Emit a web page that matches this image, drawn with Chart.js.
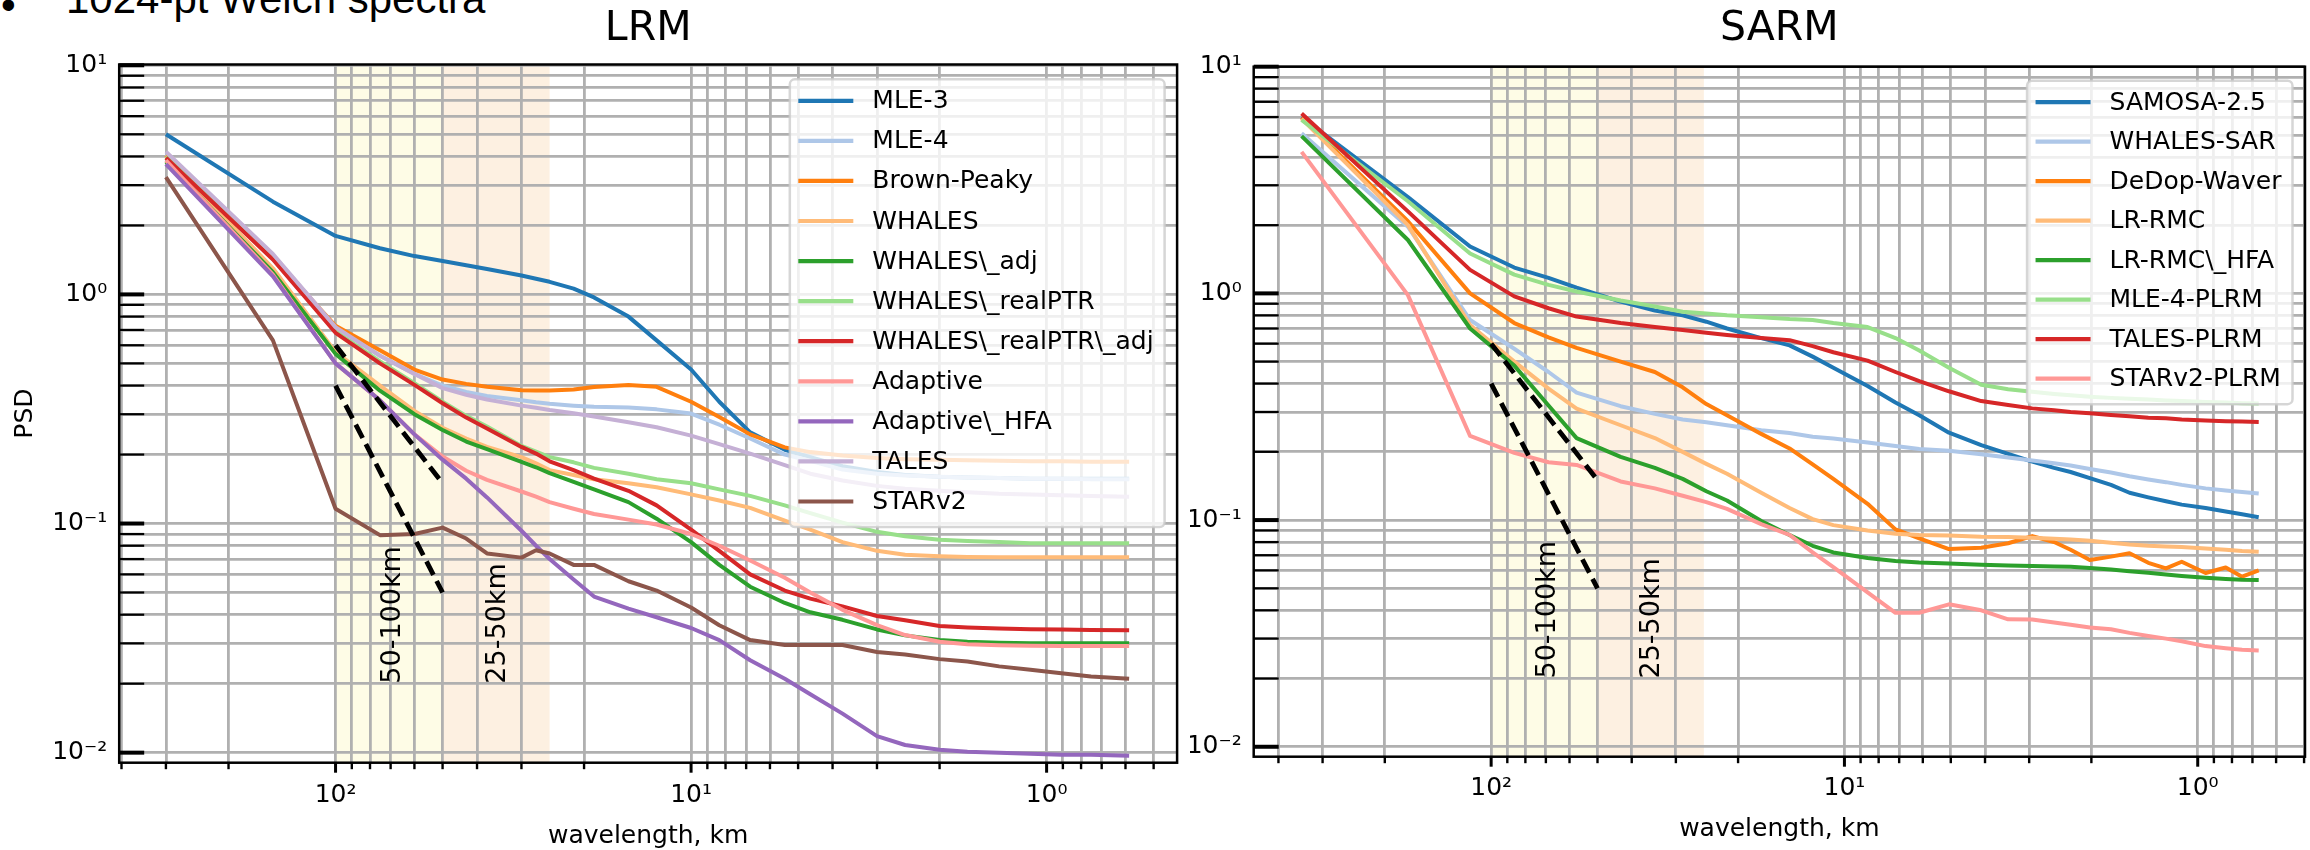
<!DOCTYPE html>
<html>
<head>
<meta charset="utf-8">
<script src="https://cdn.jsdelivr.net/npm/chart.js@4.4.1/dist/chart.umd.min.js"></script>
<style>
  html, body { margin: 0; padding: 0; background: #fff; }
  body { width: 2310px; height: 850px; position: relative; overflow: hidden; }
  canvas { position: absolute; top: 0; }
  #lrmChart { left: 0; }
  #sarmChart { left: 1190px; }
  .heading { position: absolute; font-family: 'Liberation Sans', Arial, sans-serif; font-size: 42px; line-height: 42px; color: #000; white-space: nowrap; }
</style>
</head>
<body>
<div class="heading" style="left:1px;top:-16px">•</div>
<div class="heading" style="left:66px;top:-22px">1024-pt Welch spectra</div>
<canvas id="lrmChart" width="1190" height="850"></canvas>
<canvas id="sarmChart" width="1120" height="850"></canvas>
<script>
// ---- LRM spectra (PSD vs wavelength in km) ----
const lrmWavelength = [300, 150, 100, 75, 60, 50, 42.9, 37.5, 30, 27.3, 25, 21.4, 18.75, 15, 12.5, 10, 8.33, 6.82, 5.45, 4.62, 3.75, 3.0, 2.5, 2.0, 1.67, 1.36, 1.11, 0.909, 0.75, 0.586];

const lrmMle3 = [5.0, 2.54, 1.80, 1.59, 1.47, 1.40, 1.34, 1.29, 1.21, 1.17, 1.135, 1.06, 0.97, 0.80, 0.63, 0.47, 0.34, 0.25, 0.21, 0.195, 0.178, 0.168, 0.163, 0.160, 0.159, 0.158, 0.157, 0.157, 0.157, 0.157];
const lrmMle4 = [4.1, 1.48, 0.72, 0.54, 0.45, 0.40, 0.375, 0.36, 0.345, 0.338, 0.333, 0.327, 0.323, 0.321, 0.315, 0.302, 0.27, 0.235, 0.20, 0.188, 0.172, 0.165, 0.162, 0.160, 0.159, 0.158, 0.157, 0.157, 0.156, 0.156];
const lrmBrownPeaky = [4.05, 1.45, 0.73, 0.57, 0.47, 0.425, 0.407, 0.395, 0.382, 0.381, 0.381, 0.385, 0.394, 0.402, 0.395, 0.34, 0.292, 0.245, 0.215, 0.205, 0.198, 0.193, 0.191, 0.19, 0.189, 0.188, 0.187, 0.187, 0.186, 0.186];
const lrmWhales = [4.0, 1.3, 0.56, 0.40, 0.31, 0.262, 0.235, 0.216, 0.195, 0.183, 0.171, 0.163, 0.156, 0.150, 0.144, 0.134, 0.126, 0.117, 0.103, 0.094, 0.083, 0.076, 0.073, 0.072, 0.0715, 0.0713, 0.0713, 0.0713, 0.0713, 0.0713];
const lrmWhalesAdj = [3.8, 1.25, 0.55, 0.38, 0.30, 0.256, 0.228, 0.211, 0.186, 0.176, 0.166, 0.152, 0.141, 0.124, 0.105, 0.083, 0.066, 0.053, 0.045, 0.041, 0.038, 0.0345, 0.0325, 0.031, 0.0305, 0.0302, 0.030, 0.030, 0.030, 0.030];
const lrmWhalesRealPtr = [4.0, 1.43, 0.69, 0.51, 0.41, 0.34, 0.295, 0.265, 0.218, 0.206, 0.195, 0.185, 0.175, 0.165, 0.156, 0.150, 0.141, 0.132, 0.12, 0.111, 0.101, 0.092, 0.088, 0.085, 0.084, 0.083, 0.082, 0.082, 0.082, 0.082];
const lrmWhalesRealPtrAdj = [3.95, 1.42, 0.68, 0.50, 0.403, 0.335, 0.29, 0.26, 0.216, 0.202, 0.187, 0.171, 0.157, 0.139, 0.12, 0.094, 0.076, 0.06, 0.051, 0.047, 0.0435, 0.0395, 0.0378, 0.0357, 0.0352, 0.0348, 0.0346, 0.0345, 0.0343, 0.0342];
const lrmAdaptive = [3.85, 1.22, 0.50, 0.345, 0.245, 0.196, 0.17, 0.155, 0.138, 0.131, 0.124, 0.116, 0.110, 0.104, 0.099, 0.090, 0.080, 0.069, 0.058, 0.050, 0.042, 0.036, 0.0326, 0.0305, 0.0297, 0.0294, 0.0293, 0.0292, 0.0292, 0.0292];
const lrmAdaptiveHfa = [3.7, 1.2, 0.50, 0.345, 0.245, 0.19, 0.157, 0.13, 0.093, 0.080, 0.07, 0.057, 0.048, 0.0425, 0.039, 0.035, 0.031, 0.0253, 0.021, 0.018, 0.0148, 0.0118, 0.0108, 0.0103, 0.0101, 0.0100, 0.0099, 0.0098, 0.0098, 0.0097];
const lrmTales = [4.2, 1.5, 0.72, 0.54, 0.45, 0.39, 0.365, 0.348, 0.327, 0.32, 0.313, 0.303, 0.293, 0.277, 0.263, 0.242, 0.222, 0.202, 0.18, 0.165, 0.154, 0.146, 0.142, 0.139, 0.137, 0.135, 0.134, 0.133, 0.132, 0.131];
const lrmStarV2 = [3.25, 0.63, 0.116, 0.089, 0.090, 0.096, 0.086, 0.074, 0.071, 0.0765, 0.074, 0.066, 0.066, 0.056, 0.051, 0.043, 0.036, 0.031, 0.0295, 0.0295, 0.0295, 0.0275, 0.0268, 0.0256, 0.025, 0.0238, 0.023, 0.0222, 0.0215, 0.021];

const lrmNames = ['MLE-3', 'MLE-4', 'Brown-Peaky', 'WHALES', 'WHALES\\_adj', 'WHALES\\_realPTR',
  'WHALES\\_realPTR\\_adj', 'Adaptive', 'Adaptive\\_HFA', 'TALES', 'STARv2'];

// ---- SARM spectra ----
const sarmWavelength = [344, 172, 114.7, 86, 68.8, 57.3, 43, 34.4, 28.7, 24.6, 21.5, 17.2, 14.3, 12.3, 10.75, 8.6, 7.17, 6.14, 5.06, 4.1, 3.44, 2.94, 2.55, 2.29, 2.02, 1.76, 1.56, 1.38, 1.23, 1.11, 0.95, 0.833, 0.749, 0.672];

const sarmSamosa = [6.0, 2.66, 1.61, 1.30, 1.17, 1.06, 0.92, 0.84, 0.80, 0.75, 0.70, 0.635, 0.59, 0.526, 0.47, 0.39, 0.33, 0.29, 0.243, 0.214, 0.196, 0.181, 0.170, 0.163, 0.153, 0.143, 0.132, 0.126, 0.121, 0.117, 0.113, 0.109, 0.106, 0.103];
const sarmWhalesSar = [5.08, 1.97, 0.763, 0.57, 0.45, 0.365, 0.318, 0.294, 0.278, 0.27, 0.262, 0.249, 0.242, 0.233, 0.229, 0.22, 0.212, 0.206, 0.202, 0.195, 0.189, 0.183, 0.178, 0.174, 0.168, 0.162, 0.156, 0.151, 0.147, 0.143, 0.138, 0.135, 0.133, 0.131];
const sarmDedopWaver = [5.97, 2.08, 1.0, 0.74, 0.64, 0.575, 0.50, 0.45, 0.385, 0.325, 0.29, 0.24, 0.207, 0.176, 0.152, 0.118, 0.091, 0.083, 0.0745, 0.0755, 0.079, 0.085, 0.080, 0.074, 0.0667, 0.069, 0.0714, 0.0648, 0.0612, 0.0655, 0.0584, 0.0618, 0.0563, 0.060];
const sarmLrRmc = [5.9, 2.0, 0.725, 0.50, 0.38, 0.31, 0.262, 0.23, 0.20, 0.177, 0.160, 0.132, 0.113, 0.101, 0.095, 0.090, 0.087, 0.086, 0.0855, 0.0845, 0.0842, 0.0835, 0.0828, 0.082, 0.081, 0.0795, 0.078, 0.077, 0.0765, 0.076, 0.075, 0.074, 0.073, 0.0724];
const sarmLrRmcHfa = [4.94, 1.72, 0.70, 0.48, 0.32, 0.23, 0.19, 0.17, 0.152, 0.134, 0.122, 0.099, 0.086, 0.077, 0.072, 0.068, 0.066, 0.065, 0.0643, 0.0635, 0.063, 0.0627, 0.0624, 0.0622, 0.0615, 0.0605, 0.0595, 0.0585, 0.0575, 0.0567, 0.0557, 0.055, 0.0546, 0.0544];
const sarmMle4Plrm = [5.82, 2.55, 1.50, 1.21, 1.09, 1.02, 0.93, 0.875, 0.83, 0.816, 0.80, 0.785, 0.77, 0.763, 0.74, 0.71, 0.635, 0.56, 0.47, 0.395, 0.378, 0.368, 0.36, 0.355, 0.35, 0.346, 0.343, 0.34, 0.337, 0.335, 0.332, 0.33, 0.328, 0.327];
const sarmTalesPlrm = [6.22, 2.3, 1.27, 0.97, 0.86, 0.79, 0.74, 0.71, 0.69, 0.67, 0.655, 0.635, 0.622, 0.585, 0.55, 0.505, 0.45, 0.41, 0.37, 0.335, 0.322, 0.311, 0.305, 0.30, 0.296, 0.291, 0.287, 0.283, 0.281, 0.278, 0.275, 0.273, 0.272, 0.271];
const sarmStarV2Plrm = [4.21, 0.983, 0.235, 0.198, 0.18, 0.175, 0.148, 0.138, 0.128, 0.12, 0.112, 0.096, 0.086, 0.072, 0.062, 0.048, 0.039, 0.039, 0.0425, 0.040, 0.0365, 0.0364, 0.0353, 0.0345, 0.0336, 0.033, 0.0318, 0.0308, 0.030, 0.0292, 0.0278, 0.0272, 0.0268, 0.0266];

const sarmNames = ['SAMOSA-2.5', 'WHALES-SAR', 'DeDop-Waver', 'LR-RMC', 'LR-RMC\\_HFA', 'MLE-4-PLRM', 'TALES-PLRM', 'STARv2-PLRM'];

// reference slopes over the 50-100 km band, [wavelength, PSD]
const slopeShallow = [[100, 0.6], [50, 0.15]];
const slopeSteep = [[100, 0.4], [50, 0.05]];

// shaded wavelength bands and their captions
const bandEdges = [[100, 50], [50, 25]];
const bandCaptions = ['50-100km', '25-50km'];
const bandCaptionAt = [69, 35];
const bandCaptionPsd = 0.02;

// log-axis tick layout
const tickMantissas = [1, 2, 3, 4, 5, 6, 7, 8, 9];
const psdDecades = [-2, -1, 0, 1];
const wavelengthDecades = [-1, 0, 1, 2];

const tab20 = ['#1f77b4', '#aec7e8', '#ff7f0e', '#ffbb78', '#2ca02c', '#98df8a', '#d62728', '#ff9896', '#9467bd', '#c5b0d5', '#8c564b'];
const bandFills = ['#fefce6', '#fdf0e1'];
const GRID = '#b0b0b0';
const FONT = "'DejaVu Sans', sans-serif";

Chart.defaults.font.family = FONT;
Chart.defaults.font.size = 25;
Chart.defaults.color = '#000';

const SUP = { '-': '\u207b', '0': '\u2070', '1': '\u00b9', '2': '\u00b2', '3': '\u00b3' };
const isDecade = v => Math.abs(Math.log10(v) - Math.round(Math.log10(v))) < 1e-6;
const powerLabel = v => isDecade(v)
  ? '10' + String(Math.round(Math.log10(v))).split('').map(c => SUP[c]).join('')
  : '';

function logTicks(decades, min, max) {
  const out = [];
  decades.forEach(e => tickMantissas.forEach(m => {
    const v = m * Math.pow(10, e);
    if (v >= min * 0.999 && v <= max * 1.001) out.push({ value: v });
  }));
  return out;
}

function roundRect(ctx, x, y, w, h, r) {
  ctx.beginPath();
  ctx.moveTo(x + r, y);
  ctx.arcTo(x + w, y, x + w, y + h, r);
  ctx.arcTo(x + w, y + h, x, y + h, r);
  ctx.arcTo(x, y + h, x, y, r);
  ctx.arcTo(x, y, x + w, y, r);
  ctx.closePath();
}

// bands, frame, inward y ticks, outward x ticks, captions, legend and panel title
const spectrumDecor = {
  id: 'spectrumDecor',
  beforeDraw(chart) {
    const { ctx, chartArea: a, scales: { x } } = chart;
    ctx.save();
    bandEdges.forEach(([from, to], i) => {
      const x0 = x.getPixelForValue(from), x1 = x.getPixelForValue(to);
      ctx.fillStyle = bandFills[i];
      ctx.fillRect(Math.min(x0, x1), a.top, Math.abs(x1 - x0), a.bottom - a.top);
    });
    ctx.restore();
  },
  afterDatasetsDraw(chart) {
    const { ctx, chartArea: a, scales: { x, y } } = chart;
    ctx.save();
    ctx.font = '27px ' + FONT;
    ctx.fillStyle = '#000';
    ctx.textAlign = 'left';
    ctx.textBaseline = 'middle';
    bandCaptions.forEach((text, i) => {
      ctx.save();
      ctx.translate(x.getPixelForValue(bandCaptionAt[i]), y.getPixelForValue(bandCaptionPsd));
      ctx.rotate(-Math.PI / 2);
      ctx.fillText(text, 0, 0);
      ctx.restore();
    });

    ctx.strokeStyle = '#000';
    ctx.lineCap = 'butt';
    y.ticks.forEach(t => {
      const py = y.getPixelForValue(t.value);
      ctx.lineWidth = isDecade(t.value) ? 4 : 2.2;
      ctx.beginPath();
      ctx.moveTo(a.left, py);
      ctx.lineTo(a.left + 25, py);
      ctx.stroke();
    });
    x.ticks.forEach(t => {
      const px = x.getPixelForValue(t.value);
      ctx.lineWidth = isDecade(t.value) ? 3 : 2.4;
      ctx.beginPath();
      ctx.moveTo(px, a.bottom);
      ctx.lineTo(px, a.bottom + (isDecade(t.value) ? 10 : 6.5));
      ctx.stroke();
    });
    ctx.lineWidth = 2.5;
    ctx.strokeRect(a.left, a.top, a.right - a.left, a.bottom - a.top);
    ctx.restore();
  },
  afterDraw(chart, args, opts) {
    const { ctx, chartArea: a } = chart;
    ctx.save();
    ctx.font = '41px ' + FONT;
    ctx.fillStyle = '#000';
    ctx.textAlign = 'center';
    ctx.textBaseline = 'alphabetic';
    ctx.fillText(opts.title, (a.left + a.right) / 2, 40);

    const names = opts.names;
    ctx.font = '25px ' + FONT;
    const textW = Math.max(...names.map(n => ctx.measureText(n).width));
    const padL = 8.5, handle = 55, gap = 19, padR = 11;
    const w = padL + handle + gap + textW + padR;
    const h = 21.5 + (names.length - 1) * opts.rowHeight + 25.5;
    const x0 = a.right - 12.5 - w;
    const y0 = a.top + opts.legendOffset;
    roundRect(ctx, x0, y0, w, h, 5);
    ctx.fillStyle = 'rgba(255,255,255,0.8)';
    ctx.fill();
    ctx.strokeStyle = 'rgba(204,204,204,0.8)';
    ctx.lineWidth = 2.5;
    ctx.stroke();
    ctx.textAlign = 'left';
    ctx.textBaseline = 'middle';
    names.forEach((name, i) => {
      const cy = y0 + 21.5 + i * opts.rowHeight;
      ctx.strokeStyle = tab20[i];
      ctx.lineWidth = 4.2;
      ctx.beginPath();
      ctx.moveTo(x0 + padL, cy);
      ctx.lineTo(x0 + padL + handle, cy);
      ctx.stroke();
      ctx.fillStyle = '#000';
      ctx.fillText(name, x0 + padL + handle + gap, cy + 1);
    });
    ctx.restore();
  }
};

function spectrumChart(canvasId, cfg) {
  const datasets = cfg.series.map((values, i) => ({
    label: cfg.names[i],
    data: values.map((v, j) => ({ x: cfg.wavelength[j], y: v })),
    borderColor: tab20[i],
    borderWidth: 4,
    borderJoinStyle: 'round',
    pointRadius: 0,
    order: cfg.series.length + 1 - i
  }));
  [slopeShallow, slopeSteep].forEach(seg => datasets.push({
    label: '',
    data: seg.map(([x, y]) => ({ x, y })),
    borderColor: '#000',
    borderWidth: 4.8,
    borderDash: [15, 7],
    pointRadius: 0,
    order: 0
  }));

  const font = { family: FONT, size: 25 };
  return new Chart(document.getElementById(canvasId), {
    type: 'line',
    data: { datasets },
    plugins: [spectrumDecor],
    options: {
      responsive: false,
      animation: false,
      devicePixelRatio: 1,
      events: [],
      layout: { padding: { left: 0, top: cfg.top, right: cfg.right, bottom: 0 } },
      plugins: {
        legend: { display: false },
        tooltip: { enabled: false },
        spectrumDecor: { title: cfg.title, names: cfg.names, rowHeight: cfg.rowHeight, legendOffset: cfg.legendOffset }
      },
      scales: {
        x: {
          type: 'logarithmic',
          reverse: true,
          min: cfg.xRange[0],
          max: cfg.xRange[1],
          afterBuildTicks: s => { s.ticks = logTicks(wavelengthDecades, cfg.xRange[0], cfg.xRange[1]); },
          afterFit: s => { s.height = cfg.xAxisHeight; },
          grid: { color: GRID, lineWidth: 2.8, drawTicks: false },
          border: { display: false },
          ticks: { autoSkip: false, maxRotation: 0, minRotation: 0, padding: cfg.xTickPad, font, callback: powerLabel },
          title: { display: true, text: 'wavelength, km', font: { family: FONT, size: 25, lineHeight: 1 }, padding: { top: 0, bottom: cfg.xTitlePad } }
        },
        y: {
          type: 'logarithmic',
          min: cfg.yRange[0],
          max: cfg.yRange[1],
          afterBuildTicks: s => { s.ticks = logTicks(psdDecades, cfg.yRange[0], cfg.yRange[1]); },
          afterFit: s => { s.width = cfg.yAxisWidth; },
          grid: { color: GRID, lineWidth: 2.8, drawTicks: false },
          border: { display: false },
          ticks: { autoSkip: false, padding: 12, font, callback: powerLabel },
          title: { display: cfg.yTitle, text: 'PSD', font: { family: FONT, size: 25, lineHeight: 1 }, padding: { top: 13, bottom: 0 } }
        }
      }
    }
  });
}

spectrumChart('lrmChart', {
  title: 'LRM',
  wavelength: lrmWavelength,
  series: [lrmMle3, lrmMle4, lrmBrownPeaky, lrmWhales, lrmWhalesAdj, lrmWhalesRealPtr,
    lrmWhalesRealPtrAdj, lrmAdaptive, lrmAdaptiveHfa, lrmTales, lrmStarV2],
  names: lrmNames,
  xRange: [0.4295, 406],
  yRange: [0.00904, 10.08],
  top: 64.5, right: 12.9, yAxisWidth: 119.2, xAxisHeight: 87.3,
  xTickPad: 18, xTitlePad: 1, yTitle: true,
  rowHeight: 40.07, legendOffset: 14.8
});

spectrumChart('sarmChart', {
  title: 'SARM',
  wavelength: sarmWavelength,
  series: [sarmSamosa, sarmWhalesSar, sarmDedopWaver, sarmLrRmc, sarmLrRmcHfa, sarmMle4Plrm,
    sarmTalesPlrm, sarmStarV2Plrm],
  names: sarmNames,
  xRange: [0.497, 470],
  yRange: [0.00904, 10.0],
  top: 66.7, right: 5, yAxisWidth: 63.7, xAxisHeight: 93.3,
  xTickPad: 16.5, xTitlePad: 8.5, yTitle: false,
  rowHeight: 39.5, legendOffset: 14
});
</script>
</body>
</html>
